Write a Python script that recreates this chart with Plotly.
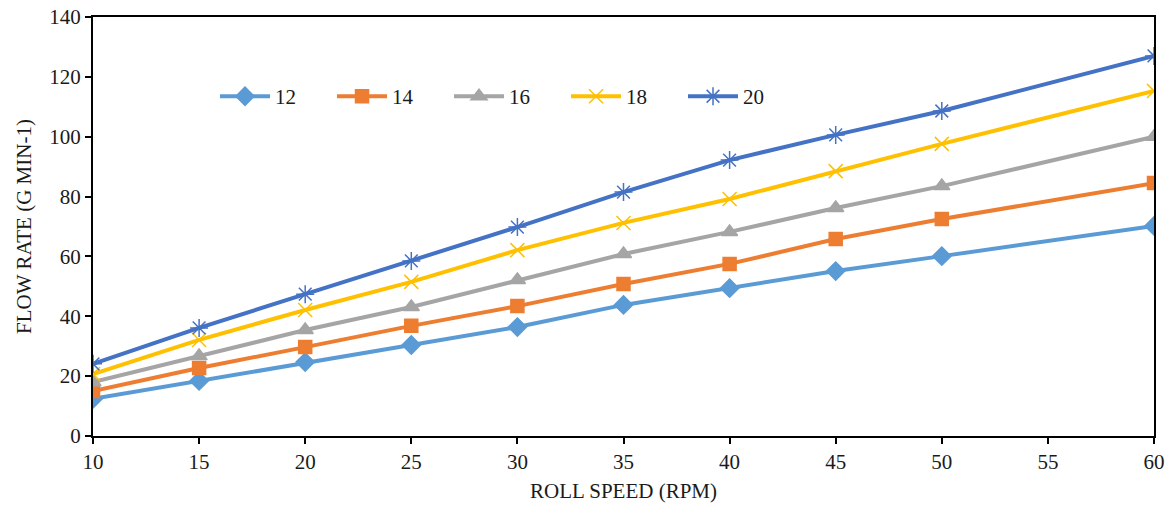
import plotly.graph_objects as go

roll_speed = [10, 15, 20, 25, 30, 35, 40, 45, 50, 60]
series_names = ["12", "14", "16", "18", "20"]
flow_12 = [12.4, 18.4, 24.7, 30.4, 36.4, 43.8, 49.4, 55.1, 60.1, 70.2]
flow_14 = [15.0, 22.7, 29.7, 36.8, 43.4, 50.8, 57.5, 65.8, 72.5, 84.5]
flow_16 = [18.0, 26.7, 35.4, 43.1, 52.1, 60.8, 68.2, 76.2, 83.5, 100.0]
flow_18 = [20.7, 32.1, 42.1, 51.5, 62.1, 71.2, 79.2, 88.5, 97.6, 115.3]
flow_20 = [24.1, 36.1, 47.4, 58.5, 69.8, 81.5, 92.2, 100.6, 108.6, 127.0]
x_ticks = [10, 15, 20, 25, 30, 35, 40, 45, 50, 55, 60]
y_ticks = [0, 20, 40, 60, 80, 100, 120, 140]

colors = ["#5B9BD5", "#ED7D31", "#A5A5A5", "#FFC000", "#4472C4"]
symbols = ["diamond", "square", "triangle-up", "x-thin-open", "asterisk-open"]
sizes = [14, 13, 14, 14, 15]
all_y = [flow_12, flow_14, flow_16, flow_18, flow_20]

fig = go.Figure()
for name, ys, c, s, sz in zip(series_names, all_y, colors, symbols, sizes):
    fig.add_trace(go.Scatter(
        x=roll_speed, y=ys, name=name, mode="lines+markers",
        line=dict(color=c, width=4),
        marker=dict(symbol=s, size=sz, color=c, line=dict(color=c, width=1.5)),
    ))

font = "Times New Roman, Liberation Serif, serif"
fig.update_layout(
    width=1171, height=506,
    margin=dict(l=93, r=17, t=17, b=70, autoexpand=False),
    paper_bgcolor="white", plot_bgcolor="white",
    font=dict(family=font, size=21, color="#1a1a1a"),
    showlegend=True,
    legend=dict(orientation="h", x=0.115, y=0.81, xanchor="left", yanchor="middle",
                bgcolor="rgba(0,0,0,0)", font=dict(size=21, family=font),
                itemwidth=50, entrywidth=52, entrywidthmode="pixels"),
    xaxis=dict(range=[10, 60], tickvals=x_ticks, showgrid=False, zeroline=False,
               showline=True, linecolor="black", linewidth=2, mirror=True,
               ticks="outside", ticklen=6, tickwidth=1.5, tickcolor="black",
               tickfont=dict(size=21, family=font), automargin=False,
               title=dict(text="ROLL SPEED (RPM)", font=dict(size=21, family=font), standoff=10)),
    yaxis=dict(range=[0, 140], tickvals=y_ticks, showgrid=False, zeroline=False,
               showline=True, linecolor="black", linewidth=2, mirror=True,
               ticks="outside", ticklen=6, tickwidth=1.5, tickcolor="black",
               tickfont=dict(size=21, family=font), automargin=False,
               title=dict(text="FLOW RATE (G MIN-1)", font=dict(size=21, family=font), standoff=12)),
)
fig.write_html("out.html", config={"displayModeBar": False},
               post_script="document.body.style.margin='0';")
